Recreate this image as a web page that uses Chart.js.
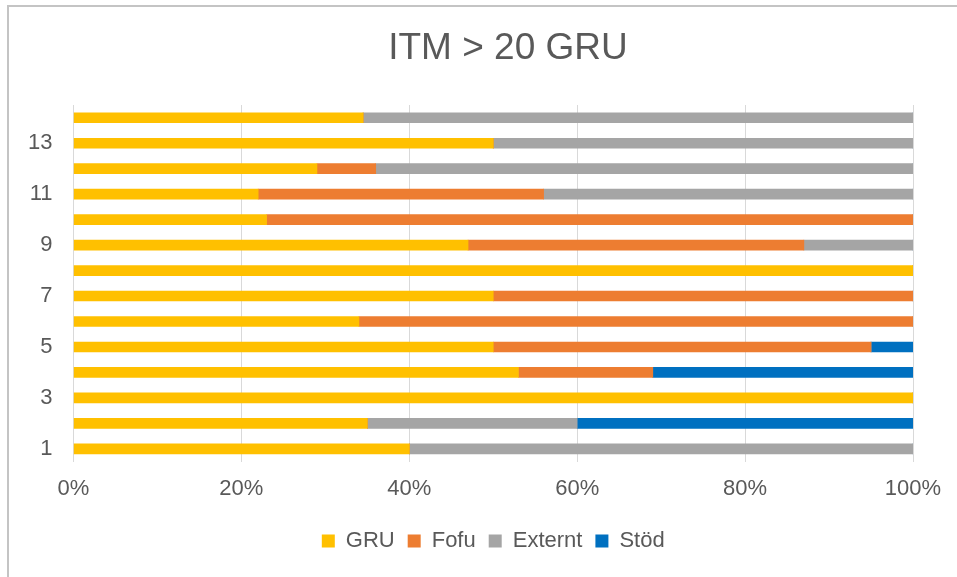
<!DOCTYPE html>
<html>
<head>
<meta charset="utf-8">
<title>ITM > 20 GRU</title>
<script src="https://cdn.jsdelivr.net/npm/chart.js@4/dist/chart.umd.min.js"></script>
<style>
  body { margin: 0; background: #fff; overflow: hidden; }
  #frame {
    position: absolute; left: 7px; top: 5px;
    width: 2000px; height: 2000px;
    border: 2px solid #c4c4c4;
  }
  #barChart { position: absolute; left: 0; top: 0; }
</style>
</head>
<body>
<div id="frame"></div>
<canvas id="barChart" width="957" height="577"></canvas>
<script>
// categories, bottom (1) to top (14)
var categories = ['1','2','3','4','5','6','7','8','9','10','11','12','13','14'];

// share of each category, in percent
var gru     = [40, 35, 100, 53, 50, 34, 50, 100, 47, 23, 22, 29, 50, 34.5];
var fofu    = [0, 0, 0, 16, 45, 66, 50, 0, 40, 77, 34, 7, 0, 0];
var externt = [60, 25, 0, 0, 0, 0, 0, 0, 13, 0, 44, 64, 50, 65.5];
var stod    = [0, 40, 0, 31, 5, 0, 0, 0, 0, 0, 0, 0, 0, 0];

var xTicks = [0, 20, 40, 60, 80, 100];

var textColor = '#595959';
var fontName = "'Liberation Sans', Arial, Helvetica, sans-serif";

// title drawn by hand so it sits where the original one does
var titlePlugin = {
  id: 'titleText',
  afterDraw: function(chart) {
    var c = chart.ctx;
    c.save();
    c.font = '37px ' + fontName;
    c.fillStyle = textColor;
    c.textAlign = 'center';
    c.textBaseline = 'middle';
    c.fillText('ITM > 20 GRU', 508, 49);
    c.restore();
  }
};

function makeSet(label, values, color) {
  return {
    label: label,
    data: values,
    backgroundColor: color,
    borderWidth: 0,
    barThickness: 10
  };
}

var ctx = document.getElementById('barChart');

var chart = new Chart(ctx, {
  type: 'bar',
  data: {
    labels: categories,
    datasets: [
      makeSet('GRU', gru, '#FFC000'),
      makeSet('Fofu', fofu, '#ED7D31'),
      makeSet('Externt', externt, '#A5A5A5'),
      makeSet('Stöd', stod, '#0070C0')
    ]
  },
  options: {
    indexAxis: 'y',
    responsive: false,
    animation: false,
    layout: {
      padding: { top: 105, left: 7, right: 44, bottom: 15 }
    },
    scales: {
      x: {
        stacked: true,
        min: 0,
        max: 100,
        afterBuildTicks: function(scale) {
          scale.ticks = xTicks.map(function(v) { return { value: v }; });
        },
        afterFit: function(scale) { scale.height += 1; },
        grid: { color: '#d9d9d9', lineWidth: 1, drawTicks: false },
        border: { display: false },
        ticks: {
          padding: 14,
          color: textColor,
          font: { family: fontName, size: 22 },
          callback: function(v) { return v + '%'; }
        }
      },
      y: {
        stacked: true,
        reverse: true,
        grid: { display: false, drawTicks: false },
        border: { display: false },
        ticks: {
          autoSkip: false,
          padding: 21,
          color: textColor,
          font: { family: fontName, size: 22 },
          callback: function(value, index) {
            return index % 2 === 0 ? categories[index] : '';
          }
        }
      }
    },
    plugins: {
      title: { display: false },
      tooltip: { enabled: false },
      legend: {
        position: 'bottom',
        fullSize: false,
        labels: {
          boxWidth: 13,
          boxHeight: 13,
          padding: 13,
          color: textColor,
          font: { family: fontName, size: 22 }
        }
      }
    }
  },
  plugins: [titlePlugin]
});
</script>
</body>
</html>
